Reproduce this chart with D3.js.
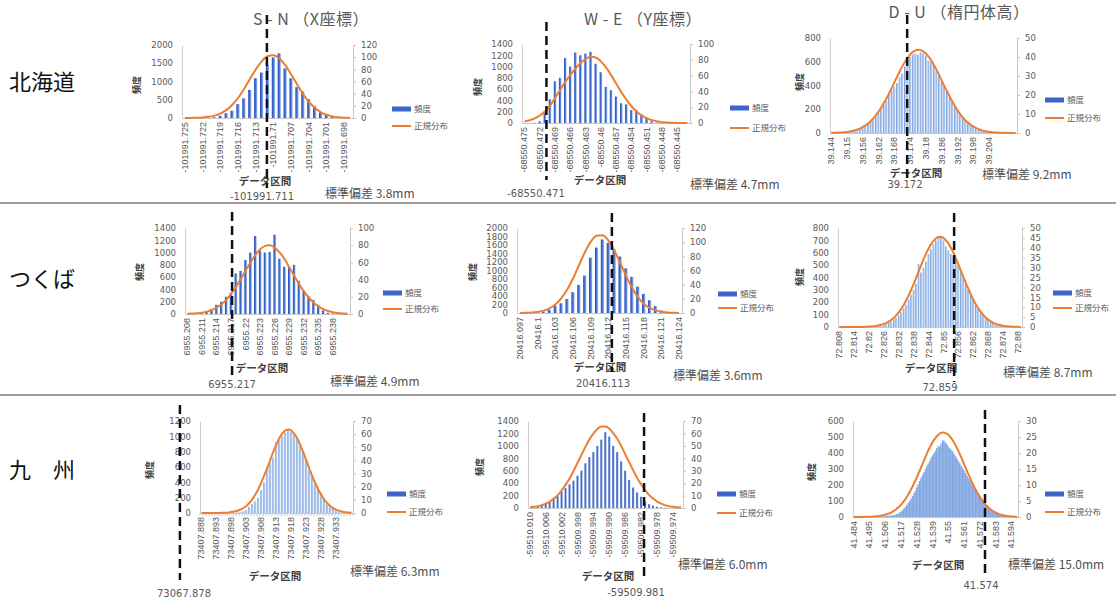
<!DOCTYPE html>
<html>
<head>
<meta charset="utf-8">
<script src="https://cdn.jsdelivr.net/npm/d3@7"></script>
<style>
  body { margin: 0; background: #fff; }
  text { font-family: "Noto Sans CJK JP", "Noto Sans", sans-serif; }
</style>
</head>
<body>
<div id="chart"></div>
<script>
// row / column labels
const regions = ["北海道", "つくば", "九　州"];
const columnTitles = ["S - N （X座標）", "W - E （Y座標）", "D - U （楕円体高）"];

// tick labels (every k-th bin)
const ticksSnH = ["-101991.725","-101991.722","-101991.719","-101991.716","-101991.713","-101991.71","-101991.707","-101991.704","-101991.701","-101991.698"];
const ticksWeH = ["-68550.475","-68550.472","-68550.469","-68550.466","-68550.463","-68550.46","-68550.457","-68550.454","-68550.451","-68550.448","-68550.445"];
const ticksDuH = ["39.144","39.15","39.156","39.162","39.168","39.174","39.18","39.186","39.192","39.198","39.204"];
const ticksSnT = ["6955.208","6955.211","6955.214","6955.217","6955.22","6955.223","6955.226","6955.229","6955.232","6955.235","6955.238"];
const ticksWeT = ["20416.097","20416.1","20416.103","20416.106","20416.109","20416.112","20416.115","20416.118","20416.121","20416.124"];
const ticksDuT = ["72.808","72.814","72.82","72.826","72.832","72.838","72.844","72.85","72.856","72.862","72.868","72.874","72.88"];
const ticksSnK = ["73407.888","73407.893","73407.898","73407.903","73407.908","73407.913","73407.918","73407.923","73407.928","73407.933"];
const ticksWeK = ["-59510.010","-59510.006","-59510.002","-59509.998","-59509.994","-59509.990","-59509.986","-59509.982","-59509.978","-59509.974"];
const ticksDuK = ["41.484","41.495","41.506","41.517","41.528","41.539","41.55","41.561","41.572","41.583","41.594"];

// 頻度 (left axis)
const freqSnH = [0,0,0,3,8, 20,60,130,200,380, 540,770,1090,1245,1450, 1660,1770,1360,1090,845, 730,520,330,150,90, 45,20,5,0];
const freqWeH = [0,0,5,30,200, 420,740,800,1150,1000, 1250,1200,1230,1260,1050, 900,640,580,470,350, 330,230,230,150,90, 30,8,3,0,0, 0,0,0];
const freqDuH = [0,0,0,2,3,5, 8,10,15,20,28,36, 48,60,75,95,118,140, 170,205,240,270,330,360,
  390,420,470,500,560,600, 640,660,670,660,680,670, 650,610,600,570,520,480, 430,390,350,300,260,220,
  190,160,130,105,85,68, 52,40,30,22,16,12, 9,6,4,3,2,1, 1,0,0,0,0];
const freqSnT = [0,0,10,15,40, 80,150,200,280,350, 660,700,880,1000,1270, 1030,1000,1010,1290,900, 770,760,800,540,380, 290,230,150,60,20, 10,5,0,0];
const freqWeT = [0,0,0,10,30, 80,170,230,330,490, 660,880,1300,1540,1730, 1650,1500,1330,1050,850, 620,450,300,160,60, 25,5,0];
const freqDuT = [0,0,0,0,0,0,0,0,0,0, 0,0,0,2,3,5,8,12,18,25, 35,45,60,75,95,120,150,180,220,260,
  300,350,510,440,480,530,590,630,670,700, 730,720,700,650,620,590,570,540,500,450,
  400,350,300,260,220,180,150,120,95,75, 60,45,35,25,18,12,8,5,3,2, 1,0,0,0];
const freqSnK = [0,0,0,0,0,0,0,0,0,0, 0,0,5,10,20,40,80,120,150,200, 300,400,600,650,720,920,950,1000,1050,1080,
  1060,1030,960,880,800,700,560,500,380,300, 230,170,120,90,60,35,15,8,3,0, 0];
const freqWeK = [0,10,20,50,80, 100,150,200,260,320, 380,440,520,600,720, 820,900,1000,1100,1220, 1150,1000,900,750,600, 450,330,250,180,110, 60,40,20,10,5, 2,0,0,0];
const freqDuK = [0,0,0,0,0,0,0,0,0,0, 0,0,0,0,0,1,1,2,2,3, 3,4,5,6,7,8,10,11,13,15,
  18,22,28,34,42,52,62,75,88,100, 115,130,148,165,185,205,225,245,262,280,
  300,320,335,350,370,385,400,415,430,445, 440,460,480,475,465,455,440,430,420,410,
  395,380,365,350,335,320,305,290,275,258, 242,228,212,198,184,170,155,142,130,118,
  106,95,85,75,66,58,50,43,37,32, 27,23,19,16,13,11,9,7,5,4, 3,2,1,1,0];

// 正規分布 (right axis)
const normSnH = [0.1,0.2,0.4,0.9,1.9, 3.9,7.3,12.9,21.3,32.9, 47.4,63.6,79.7,93.1,101.5, 103.3,98.0,86.9,71.8,55.4, 39.9,26.8,16.8,9.8,5.3, 2.7,1.3,0.6,0.2];
const normWeH = [2.0,3.5,5.8,9.5,14.5, 22.0,32.0,42.0,52.0,61.0, 69.0,76.0,81.0,83.8,83.0, 78.0,70.3,60.6,49.9,39.2, 29.5,21.2,14.6,9.6,6.0, 3.6,2.1,1.1,0.6,0.3, 0.15,0.07,0.03];
const normDuH = [0.07,0.1,0.14,0.21,0.3,0.42, 0.57,0.78,1.05,1.41,1.88,2.46, 3.18,4.07,5.0,6.3,7.8,9.5,
  11.4,13.6,16.0,18.3,21.1,23.9, 26.8,29.7,32.5,35.2,37.5,39.6, 41.4,42.7,43.5,43.8,43.6,42.8,
  41.6,40.1,38.1,35.7,33.1,30.3, 27.4,24.4,21.8,19.1,16.4,14.0, 11.8,9.8,8.1,6.5,5.4,4.2,
  3.3,2.6,2.0,1.5,1.1,0.8, 0.6,0.44,0.3,0.2,0.15,0.1, 0.07,0.05,0.03,0.02,0.01];
const normSnT = [0.24,0.48,0.9,1.6,2.8, 4.6,7.4,11.3,16.4,23.3, 31.3,40.8,50.5,59.9,68.8, 75.3,79.2,79.9,77.1,71.6, 63.9,54.3,44.6,34.8,26.4, 19.2,13.1,8.8,5.6,3.4, 2.0,1.1,0.6,0.3];
const normWeT = [0.09,0.24,0.62,1.5,3.1, 6.4,12.0,20.7,32.8,48.7, 67.1,85.4,100.4,109.0,109.9, 102.5,88.4,71.1,52.5,35.9, 22.7,13.2,7.3,3.7,1.7, 0.7,0.3,0.1];
const normDuT = [0,0,0,0,0,0.01,0.01,0.02,0.04,0.06, 0.1,0.15,0.21,0.31,0.43,0.62,0.85,1.2,1.6,2.1,
  2.8,3.7,4.7,6.0,7.5,9.3,11.3,13.7,16.2,19.0, 21.9,25.1,28.2,31.4,34.4,37.3,39.8,42.0,43.6,44.9,
  45.4,45.4,44.9,43.6,42.0,39.8,37.3,34.4,31.4,28.2, 25.1,21.9,19.0,16.2,13.7,11.3,9.3,7.5,6.0,4.7,
  3.7,2.8,2.1,1.6,1.2,0.85,0.62,0.43,0.31,0.21, 0.15,0.1,0.07,0.05];
const normSnK = [0,0,0,0,0.02,0.05,0.09,0.15,0.25,0.43, 0.7,1.1,1.7,2.7,3.8,5.5,7.8,10.6,14.2,18.5,
  23.5,29.1,34.7,40.8,46.9,52.4,57.2,60.7,62.9,63.5, 62.6,60.1,56.3,51.4,45.7,39.7,33.5,27.6,22.5,17.7,
  13.5,10.0,7.3,5.1,3.6,2.4,1.6,1.0,0.6,0.4, 0.2];
const normWeK = [0.57,0.92,1.5,2.3,3.5, 5.2,7.6,10.4,14.2,18.9, 24.0,30.1,36.6,43.0,49.6, 55.5,60.1,63.7,65.5,65.5,
  63.7,60.1,55.5,49.6,43.0, 36.6,30.1,24.0,18.9,14.2, 10.4,7.6,5.2,3.5,2.3, 1.5,0.92,0.57,0.33];
const normDuK = [0.005,0.006,0.008,0.01,0.013,0.017,0.02,0.03,0.04,0.05,
  0.06,0.07,0.09,0.12,0.14,0.18,0.22,0.27,0.33,0.40, 0.48,0.59,0.70,0.84,1.0,1.18,1.40,1.64,1.90,2.21,
  2.57,2.96,3.40,3.88,4.41,4.96,5.6,6.3,7.05,7.8, 8.66,9.5,10.5,11.4,12.4,13.5,14.5,15.6,16.6,17.7,
  18.7,19.8,20.8,21.7,22.6,23.4,24.1,24.7,25.3,25.7, 26.1,26.3,26.4,26.4,26.2,26.0,25.7,25.2,24.6,24.0,
  23.2,22.4,21.5,20.6,19.6,18.6,17.5,16.4,15.4,14.3, 13.3,12.2,11.2,10.3,9.4,8.5,7.7,6.9,6.2,5.5,
  4.9,4.3,3.8,3.3,2.9,2.5,2.15,1.85,1.58,1.35, 1.14,0.96,0.81,0.68,0.56,0.47,0.39,0.32,0.26,0.21,
  0.17,0.14,0.11,0.09,0.07];

// dashed marker (bin position), its label, and the standard deviation note
const markPos = [13.9, 4.3, 28.8, 9.2, 15.6, 46.2, -7.2, 28.7, 91.5];
const markText = ["-101991.711", "-68550.471", "39.172", "6955.217", "20416.113", "72.859", "73067.878", "-59509.981", "41.574"];
const sdText = ["標準偏差 3.8mm", "標準偏差 4.7mm", "標準偏差 9.2mm", "標準偏差 4.9mm", "標準偏差 3.6mm", "標準偏差 8.7mm", "標準偏差 6.3mm", "標準偏差 6.0mm", "標準偏差 15.0mm"];

const panels = [
  { ticks: ticksSnH, freq: freqSnH, norm: normSnH, every: 3, x0: 182, x1: 353, yTop: 45, yBot: 118, lMax: 2000, lStep: 500, rMax: 120, rStep: 20, pad: 0.45, grad: "dark",
    dash: [15, 188], label: [262, 200], axT: [265, 185], sd: [325, 198], yT: [137, 85], lg: [392, 109, 126] },
  { ticks: ticksWeH, freq: freqWeH, norm: normWeH, every: 3, x0: 522, x1: 690, yTop: 44, yBot: 123, lMax: 1400, lStep: 200, rMax: 100, rStep: 20, pad: 0.5, grad: "dark",
    dash: [22, 180], label: [536, 197], axT: [600, 184], sd: [690, 189], yT: [478, 87], lg: [730, 108, 128] },
  { ticks: ticksDuH, freq: freqDuH, norm: normDuH, every: 6, x0: 830, x1: 1017, yTop: 38, yBot: 133, lMax: 800, lStep: 200, rMax: 50, rStep: 10, pad: 0.2, grad: "light",
    dash: [15, 178], label: [905, 188], axT: [916, 177], sd: [982, 179], yT: [800, 82], lg: [1045, 100, 118] },
  { ticks: ticksSnT, freq: freqSnT, norm: normSnT, every: 3, x0: 185, x1: 350, yTop: 228, yBot: 314, lMax: 1400, lStep: 200, rMax: 100, rStep: 20, pad: 0.45, grad: "dark",
    dash: [212, 375], label: [232, 388], axT: [262, 372], sd: [330, 386], yT: [140, 272], lg: [383, 293, 309] },
  { ticks: ticksWeT, freq: freqWeT, norm: normWeT, every: 3, x0: 517, x1: 682, yTop: 228, yBot: 313, lMax: 2000, lStep: 200, rMax: 120, rStep: 20, pad: 0.45, grad: "dark",
    dash: [213, 372], label: [603, 387], axT: [600, 371], sd: [673, 380], yT: [473, 272], lg: [718, 294, 308] },
  { ticks: ticksDuT, freq: freqDuT, norm: normDuT, every: 6, x0: 838, x1: 1022, yTop: 228, yBot: 327, lMax: 800, lStep: 100, rMax: 50, rStep: 5, pad: 0.2, grad: "light",
    dash: [213, 382], label: [940, 391], axT: [931, 372], sd: [1003, 377], yT: [800, 277], lg: [1053, 293, 308] },
  { ticks: ticksSnK, freq: freqSnK, norm: normSnK, every: 5, x0: 200, x1: 353, yTop: 421, yBot: 513, lMax: 1200, lStep: 200, rMax: 70, rStep: 10, pad: 0.3, grad: "light",
    dash: [405, 580], label: [184, 597], axT: [275, 580], sd: [350, 576], yT: [150, 470], lg: [387, 494, 512], minor: true },
  { ticks: ticksWeK, freq: freqWeK, norm: normWeK, every: 4, x0: 528, x1: 683, yTop: 421, yBot: 508, lMax: 1400, lStep: 200, rMax: 70, rStep: 10, pad: 0.45, grad: "dark",
    dash: [413, 578], label: [636, 596], axT: [608, 580], sd: [678, 569], yT: [480, 467], lg: [717, 494, 513] },
  { ticks: ticksDuK, freq: freqDuK, norm: normDuK, every: 11, x0: 853, x1: 1018, yTop: 421, yBot: 517, lMax: 600, lStep: 100, rMax: 30, rStep: 5, pad: 0, grad: "mid",
    dash: [410, 575], label: [981, 589], axT: [938, 569], sd: [1008, 569], yT: [812, 472], lg: [1045, 494, 512] }
];

const svg = d3.select("#chart").append("svg")
  .attr("width", 1116)
  .attr("height", 600)
  .style("background", "#fff");

// bar fills
const defs = svg.append("defs");
const addGradient = function (id, stops) {
  const gr = defs.append("linearGradient").attr("id", id)
    .attr("x1", 0).attr("x2", 1).attr("y1", 0).attr("y2", 0);
  stops.forEach((s) => gr.append("stop").attr("offset", s[0]).attr("stop-color", s[1]));
};
addGradient("dark", [["0%", "#2248b8"], ["55%", "#4a78d6"], ["100%", "#b3caf0"]]);
addGradient("light", [["0%", "#4f80d4"], ["40%", "#a2c0ea"], ["100%", "#d8e6f8"]]);
addGradient("mid", [["0%", "#5f8ad4"], ["50%", "#93b5e6"], ["100%", "#c0d5f2"]]);

// row separators
svg.selectAll(".sep")
  .data([203, 395])
  .join("line")
  .attr("x1", 0).attr("x2", 1116)
  .attr("y1", (d) => d).attr("y2", (d) => d)
  .attr("stroke", "#7f7f7f")
  .attr("stroke-width", 1.5);

// region labels
svg.selectAll(".region")
  .data(regions)
  .join("text")
  .attr("x", 9)
  .attr("y", (d, i) => [90, 287, 478][i])
  .text((d) => d)
  .style("font-size", "22px")
  .style("fill", "#111");

// column titles
svg.selectAll(".coltitle")
  .data(columnTitles)
  .join("text")
  .attr("x", (d, i) => [311, 643, 959][i])
  .attr("y", (d, i) => [25, 25, 18][i])
  .attr("text-anchor", "middle")
  .text((d) => d)
  .style("font-size", "16px")
  .style("letter-spacing", "0.5px")
  .style("fill", "#595959");

const drawPanel = function (p, k) {
  const n = p.freq.length;
  const g = svg.append("g");

  const x = d3.scaleBand()
    .domain(d3.range(n))
    .range([p.x0, p.x1])
    .paddingInner(p.pad)
    .paddingOuter(p.pad / 2);
  const xPos = d3.scaleLinear().domain([0, n]).range([p.x0, p.x1]);
  const yL = d3.scaleLinear().domain([0, p.lMax]).range([p.yBot, p.yTop]);
  const yR = d3.scaleLinear().domain([0, p.rMax]).range([p.yBot, p.yTop]);

  // left axis
  const axL = g.append("g")
    .attr("transform", `translate(${p.x0},0)`)
    .call(d3.axisLeft(yL).tickValues(d3.range(0, p.lMax + 1, p.lStep)).tickFormat(d3.format("d")).tickSize(0).tickPadding(9));
  axL.select(".domain").attr("stroke", "#d0d0d0");

  // right axis
  const axR = g.append("g")
    .attr("transform", `translate(${p.x1},0)`)
    .call(d3.axisRight(yR).tickValues(d3.range(0, p.rMax + 1, p.rStep)).tickFormat(d3.format("d")).tickSize(3).tickPadding(5));
  axR.select(".domain").attr("stroke", "#c8c8c8");
  axR.selectAll(".tick line").attr("stroke", "#c8c8c8");

  [axL, axR].forEach((a) => {
    a.selectAll("text")
      .style("font-size", "8.5px")
      .style("fill", "#5a5a5a")
      .style("font-family", '"DejaVu Sans", sans-serif');
  });

  // x axis with rotated category labels
  const axX = g.append("g")
    .attr("transform", `translate(0,${p.yBot})`)
    .call(
      d3.axisBottom(x)
        .tickValues(d3.range(0, n, p.every).filter((i) => i / p.every < p.ticks.length))
        .tickFormat((i) => p.ticks[i / p.every])
        .tickSize(0)
    );
  axX.select(".domain").attr("stroke", "#c8c8c8");
  axX.selectAll("text")
    .attr("transform", "rotate(-90)")
    .attr("x", -4)
    .attr("y", 0)
    .attr("dy", "0.32em")
    .style("text-anchor", "end")
    .style("font-size", "9px")
    .style("fill", "#555")
    .style("font-family", '"Liberation Sans", sans-serif');

  if (p.minor) {
    g.append("g")
      .selectAll("line")
      .data(d3.range(n + 1))
      .join("line")
      .attr("x1", (i) => xPos(i)).attr("x2", (i) => xPos(i))
      .attr("y1", p.yBot).attr("y2", p.yBot + 3)
      .attr("stroke", "#c8c8c8");
  }

  // bars
  g.append("g")
    .selectAll("rect")
    .data(p.freq)
    .join("rect")
    .attr("x", (d, i) => x(i))
    .attr("y", (d) => yL(d))
    .attr("width", p.pad === 0 ? x.bandwidth() + 0.3 : x.bandwidth())
    .attr("height", (d) => p.yBot - yL(d))
    .attr("fill", `url(#${p.grad})`);

  // normal curve
  const line = d3.line()
    .x((d, i) => x(i) + x.bandwidth() / 2)
    .y((d) => yR(d))
    .curve(d3.curveMonotoneX);
  g.append("path")
    .datum(p.norm)
    .attr("d", line)
    .attr("fill", "none")
    .attr("stroke", "#ed7d31")
    .attr("stroke-width", 2);

  // axis titles
  g.append("text")
    .attr("transform", `translate(${p.yT[0]},${p.yT[1]}) rotate(-90)`)
    .attr("text-anchor", "middle")
    .attr("dy", "0.35em")
    .text("頻度")
    .style("font-size", "9px")
    .style("font-weight", "bold")
    .style("fill", "#404040");
  g.append("text")
    .attr("x", p.axT[0])
    .attr("y", p.axT[1])
    .attr("text-anchor", "middle")
    .text("データ区間")
    .style("font-size", "10.5px")
    .style("font-weight", "bold")
    .style("fill", "#404040");

  // legend
  g.append("rect")
    .attr("x", p.lg[0]).attr("y", p.lg[1] - 2.5)
    .attr("width", 19).attr("height", 5)
    .attr("fill", "#3c66cc");
  g.append("text")
    .attr("x", p.lg[0] + 22).attr("y", p.lg[1] + 3)
    .text("頻度")
    .style("font-size", "8.5px").style("fill", "#595959");
  g.append("line")
    .attr("x1", p.lg[0]).attr("x2", p.lg[0] + 19)
    .attr("y1", p.lg[2]).attr("y2", p.lg[2])
    .attr("stroke", "#ed7d31").attr("stroke-width", 2);
  g.append("text")
    .attr("x", p.lg[0] + 22).attr("y", p.lg[2] + 3)
    .text("正規分布")
    .style("font-size", "8.5px").style("fill", "#595959");

  // standard deviation note
  g.append("text")
    .attr("x", p.sd[0]).attr("y", p.sd[1])
    .text(sdText[k])
    .style("font-size", "12px")
    .style("fill", "#505050");

  // dashed marker and its value
  const mx = xPos(markPos[k] + 0.5);
  g.append("line")
    .attr("x1", mx).attr("x2", mx)
    .attr("y1", p.dash[0]).attr("y2", p.dash[1])
    .attr("stroke", "#111")
    .attr("stroke-width", 2.5)
    .attr("stroke-dasharray", "9,5");
  g.append("text")
    .attr("x", p.label[0]).attr("y", p.label[1])
    .attr("text-anchor", "middle")
    .text(markText[k])
    .style("font-size", "10px")
    .style("fill", "#595959")
    .style("font-family", '"DejaVu Sans", sans-serif');
};

panels.forEach(drawPanel);
</script>
</body>
</html>
